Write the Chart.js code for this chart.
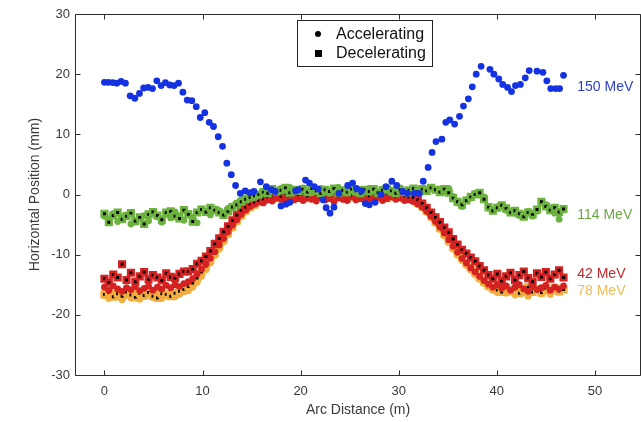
<!DOCTYPE html>
<html>
<head>
<meta charset="utf-8">
<script src="https://cdn.jsdelivr.net/npm/chart.js@4.4.0/dist/chart.umd.min.js"></script>
<style>
  html, body { margin: 0; padding: 0; background: #ffffff; overflow: hidden; }
  #wrap { width: 641px; height: 422px; overflow: hidden; position: relative; }
  canvas { display: block; }
</style>
</head>
<body>
<div id="wrap"><canvas id="c" width="650" height="422"></canvas></div>
<script>
// ---------------- DATA ----------------
// BPM arc positions (m) shared by the 114 / 42 / 78 MeV passes
const arcPos = [
  0.00, 0.45, 0.90, 1.35, 1.80, 2.25, 2.70, 3.15, 3.60, 4.05, 4.50, 4.95, 5.40, 5.85, 6.30,
  6.75, 7.20, 7.65, 8.10, 8.55, 9.00, 9.45, 9.90, 10.35, 10.80, 11.25, 11.70, 12.15, 12.60, 13.05,
  13.50, 13.95, 14.40, 14.85, 15.30, 15.75, 16.20, 16.65, 17.10, 17.55, 18.00, 18.45, 18.90, 19.35, 19.80,
  20.25, 20.70, 21.15, 21.60, 22.05, 22.50, 22.95, 23.40, 23.85, 24.30, 24.75, 25.20, 25.65, 26.10, 26.55,
  27.00, 27.45, 27.90, 28.35, 28.80, 29.25, 29.70, 30.15, 30.60, 31.05, 31.50, 31.95, 32.40, 32.85, 33.30,
  33.75, 34.20, 34.65, 35.10, 35.55, 36.00, 36.45, 36.90, 37.35, 37.80, 38.25, 38.70, 39.15, 39.60, 40.05,
  40.50, 40.95, 41.40, 41.85, 42.30, 42.75, 43.20, 43.65, 44.10, 44.55, 45.00, 45.45, 45.90, 46.35, 46.80
];

// 150 MeV (accelerating pass only)
const arc150 = [
  0.0, 0.4, 0.85, 1.26, 1.7, 2.14, 2.62, 3.1, 3.57, 4.0, 4.45, 4.9, 5.34, 5.78, 6.22, 6.66, 7.1, 7.55,
  8.0, 8.44, 8.91, 9.36, 9.77, 10.23, 10.68, 11.12, 11.6, 12.04, 12.48, 12.93, 13.37, 13.85, 14.35, 14.85,
  15.25, 15.9, 16.5, 17.0, 17.4, 18.0, 18.5, 18.9, 19.5, 19.8, 20.5, 20.9, 21.4, 21.8, 22.3, 22.6, 23.0,
  23.4, 23.9, 24.8, 25.3, 25.7, 26.2, 26.6, 27.0, 27.6, 28.2, 28.7, 29.3, 29.8, 30.4, 30.9, 31.6, 32.1,
  32.5, 33.0, 33.4, 33.8, 34.4, 34.8, 35.2, 35.7, 36.2, 36.6, 37.1, 37.5, 37.9, 38.4, 39.3, 39.7, 40.2,
  40.6, 41.1, 41.5, 41.9, 42.4, 42.9, 43.3, 44.1, 44.7, 45.1, 45.5, 46.0, 46.4, 46.8
];
const pos150 = [
  18.65, 18.65, 18.6, 18.5, 18.8, 18.5, 16.4, 16.0, 16.8, 17.7, 17.8, 17.6, 18.9, 18.1, 18.6, 18.2, 18.1, 18.5,
  17.0, 15.7, 15.6, 14.6, 12.8, 13.6, 12.0, 11.3, 9.6, 8.0, 5.2, 3.3, 1.5, 0.2, 0.6, 0.3,
  0.5, 2.1, 1.3, 0.8, 0.5, -1.9, -1.6, -1.3, 0.6, 0.8, 2.4, 1.9, 1.3, 0.9, -0.9, -2.2, -3.1,
  -2.1, 0.2, 1.5, 1.9, 1.0, 0.6, -1.5, -1.7, -1.3, 0.0, 1.3, 2.2, 1.5, 0.5, 0.2, 0.2, 0.2,
  2.2, 4.5, 7.0, 8.8, 9.2, 12.0, 12.4, 11.7, 13.0, 14.7, 15.9, 17.9, 20.0, 21.3, 20.8, 20.0, 19.2,
  18.3, 17.8, 17.1, 18.1, 18.3, 19.4, 20.6, 20.5, 20.3, 18.9, 17.6, 17.6, 17.6, 19.8
];

// 114 MeV
const acc114 = [
  -3.6, -4.0, -3.2, -4.5, -3.8, -3.4, -4.9, -4.6, -3.9, -3.5, -4.4, -3.1, -3.7, -4.6, -3.3,
  -3.9, -2.9, -3.6, -4.3, -3.2, -3.8, -4.7, -2.6, -3.0, -3.4, -2.4, -2.7, -3.1, -2.3, -1.9,
  -1.4, -0.9, -0.6, -0.3, -0.5, -0.1, 0.3, 0.5, 0.8, 0.6, 1.0, 0.7, 1.2, 0.4, 0.9,
  1.1, 0.6, 0.3, 0.8, 1.0, 0.5, 0.2, 0.7, 1.2, 0.4, 0.9, 0.6, 0.3, 0.8, 0.5,
  1.0, 0.6, 0.4, 0.9, 0.7, 0.3, 0.8, 1.1, 0.5, 0.2, 0.6, 0.9, 0.4, 0.8, 1.2,
  0.7, 0.9, 0.5, 1.0, -0.3, -1.4, -2.0, -0.9, -0.6, 0.2, -0.1, -0.4, -2.3, -2.5, -2.0,
  -2.0, -2.6, -2.8, -3.1, -3.5, -3.4, -2.8, -3.6, -2.8, -1.4, -1.7, -2.3, -3.1, -4.1, -2.5
];
const dec114 = [
  -3.2, -4.6, -3.5, -3.0, -4.1, -3.6, -3.1, -4.4, -3.8, -4.9, -3.3, -2.9, -3.5, -4.2, -3.0,
  -2.8, -3.6, -4.0, -2.6, -3.3, -4.5, -3.0, -2.5, -2.9, -2.2, -2.6, -3.0, -3.4, -2.8, -2.1,
  -1.7, -1.2, -0.8, -0.5, -0.2, 0.0, 0.4, 0.2, 0.9, 0.5, 0.7, 1.1, 0.3, 0.8, 0.6,
  0.9, 0.4, 1.0, 0.6, 0.2, 0.8, 0.5, 1.0, 0.3, 0.7, 0.4, 0.9, 0.6, 0.2, 0.8,
  0.5, 0.9, 0.3, 0.7, 1.0, 0.6, 0.2, 0.8, 0.4, 0.7, 1.0, 0.5, 0.9, 0.6, 1.1,
  0.8, 0.4, 0.9, 0.3, -0.6, -1.2, -1.7, -1.0, -0.4, 0.0, 0.3, -0.8, -2.1, -2.7, -2.2,
  -1.8, -2.3, -3.0, -2.7, -3.2, -3.7, -3.0, -3.3, -2.5, -1.2, -2.0, -2.6, -2.2, -2.9, -2.4
];

// 42 MeV
const acc42 = [
  -15.4, -15.9, -15.2, -15.7, -16.1, -15.5, -15.8, -15.3, -16.0, -15.6, -15.2, -15.9, -15.4, -15.7, -15.1,
  -15.5, -15.0, -15.3, -14.8, -14.5, -14.0, -13.2, -12.4, -11.5, -10.6, -9.5, -8.4, -7.3, -6.2, -5.1,
  -4.2, -3.3, -2.6, -2.0, -1.6, -1.2, -1.4, -0.9, -1.1, -0.6, -0.8, -1.0, -0.5, -0.9, -0.7,
  -1.0, -0.6, -0.8, -1.1, -0.5, -0.9, -0.7, -1.2, -0.6, -0.8, -1.0, -0.4, -0.9, -0.7, -1.1,
  -0.6, -0.9, -0.5, -1.0, -0.7, -0.4, -0.8, -0.6, -1.0, -0.9, -1.2, -1.6, -2.1, -2.8, -3.6,
  -4.5, -5.4, -6.4, -7.5, -8.6, -9.6, -10.6, -11.4, -12.2, -12.9, -13.6, -14.3, -14.9, -15.4, -15.0,
  -15.6, -15.2, -15.9, -15.4, -15.0, -15.7, -16.1, -15.3, -15.8, -15.5, -15.1, -15.9, -15.4, -15.7, -15.2
];
const dec42 = [
  -14.0, -14.6, -13.3, -13.8, -11.6, -14.2, -13.0, -14.5, -13.6, -12.9, -14.1, -13.4, -13.8, -14.3, -13.1,
  -13.7, -13.9, -13.2, -12.8, -12.8, -12.4, -11.5, -11.0, -10.3, -9.4, -8.2, -7.3, -6.2, -5.3, -4.3,
  -3.4, -2.6, -2.1, -1.6, -1.3, -1.0, -0.7, -0.4, -0.2, 0.1, -0.3, 0.2, -0.1, 0.3, 0.0,
  0.2, -0.2, 0.4, 0.1, -0.3, 0.2, 0.0, 0.3, -0.2, 0.1, 0.4, -0.1, 0.2, 0.0, 0.3,
  -0.2, 0.1, 0.3, -0.1, 0.2, 0.0, -0.3, 0.1, -0.2, -0.4, -0.5, -0.9, -1.5, -2.2, -3.0,
  -3.8, -4.6, -5.5, -6.3, -7.4, -8.3, -9.2, -9.8, -10.5, -11.1, -11.9, -12.6, -13.4, -14.0, -13.2,
  -14.4, -13.6, -13.0, -14.2, -13.4, -12.8, -13.9, -14.5, -13.1, -13.7, -12.9, -14.0, -13.3, -12.6, -13.8
];

// 78 MeV
const acc78 = [
  -16.8, -17.3, -16.5, -17.0, -17.5, -16.7, -17.2, -16.4, -17.4, -16.9, -16.6, -17.1, -16.5, -17.3, -16.8,
  -16.4, -17.0, -16.6, -16.2, -16.0, -15.4, -14.6, -13.6, -12.5, -11.4, -10.2, -9.1, -7.9, -6.7, -5.6,
  -4.6, -3.7, -2.9, -2.3, -1.8, -1.4, -1.0, -0.6, -0.8, -0.3, -0.5, -0.1, -0.4, 0.0, -0.3,
  -0.5, -0.2, 0.1, -0.4, -0.1, -0.3, 0.2, -0.2, -0.5, 0.0, -0.3, -0.1, 0.1, -0.4, -0.2,
  0.0, -0.3, -0.1, -0.5, -0.2, 0.1, -0.4, -0.6, -0.3, -0.8, -1.1, -1.6, -2.2, -3.0, -3.9,
  -4.8, -5.8, -6.9, -8.0, -9.1, -10.1, -11.0, -11.8, -12.6, -13.4, -14.1, -14.8, -15.4, -15.9, -16.3,
  -15.7, -16.4, -16.0, -16.7, -15.8, -16.3, -16.9, -16.1, -15.6, -16.5, -16.0, -16.6, -15.9, -16.2, -15.7
];
const dec78 = [
  -16.6, -16.3, -17.0, -16.5, -16.9, -16.2, -16.7, -17.1, -16.4, -16.8, -16.3, -16.9, -17.2, -16.5, -16.6,
  -16.9, -16.4, -16.1, -15.8, -15.3, -14.7, -13.9, -12.9, -11.9, -10.8, -9.7, -8.6, -7.5, -6.4, -5.3,
  -4.3, -3.4, -2.7, -2.1, -1.7, -1.2, -0.9, -0.7, -0.4, -0.6, -0.2, -0.5, -0.3, -0.1, -0.4,
  -0.2, -0.6, -0.3, 0.0, -0.4, -0.1, -0.5, -0.2, 0.1, -0.3, -0.6, -0.2, -0.4, 0.0, -0.3,
  -0.5, -0.1, -0.4, -0.2, -0.6, -0.3, 0.0, -0.4, -0.7, -0.5, -0.9, -1.4, -2.0, -2.7, -3.6,
  -4.5, -5.5, -6.5, -7.6, -8.7, -9.7, -10.6, -11.4, -12.2, -13.0, -13.8, -14.5, -15.1, -15.6, -15.9,
  -16.2, -15.5, -16.1, -15.7, -16.4, -15.9, -15.4, -16.2, -15.8, -16.3, -15.6, -16.0, -15.5, -16.1, -15.8
];

const xTickValues = [0, 10, 20, 30, 40, 50];
const yTickValues = [-30, -20, -10, 0, 10, 20, 30];
const energyLabels = ['150 MeV', '114 MeV', '42 MeV', '78 MeV'];
const legendLabels = ['Accelerating', 'Decelerating'];
const xTitle = 'Arc Distance (m)';
const yTitle = 'Horizontal Position (mm)';

// ---------------- STYLE ----------------
const C_BLUE = '#1532e2';
const C_GREEN = '#6cb23f';
const C_RED = '#d42222';
const C_ORANGE = '#f2ae3e';
const LABEL_COLORS = ['#2a3fd0', '#6ca645', '#c4262a', '#f1bb5e'];
const LABEL_ANCHORS = [[48.2, 17.8], [48.2, -3.4], [48.2, -13.3], [48.2, -16.1]];
const FONT = 'Liberation Sans, Arial, Helvetica, sans-serif';
const AXIS = '#2e2e2e';
const TEXT = '#3a3a3a';

function pts(xs, ys) { return xs.map((x, i) => ({ x: x, y: ys[i] })); }

function dotSet(label, xs, ys, color, order) {
  return { label, data: pts(xs, ys), order, pointStyle: 'circle', pointRadius: 3.4,
    pointBackgroundColor: color, pointBorderColor: color, pointBorderWidth: 0, showLine: false };
}
function squareSet(label, xs, ys, color, order) {
  return { label, data: pts(xs, ys), order, pointStyle: 'rect', pointRadius: 3.9,
    pointBackgroundColor: '#000000', pointBorderColor: color, pointBorderWidth: 2.6, showLine: false };
}

const framePlugin = {
  id: 'frame',
  afterDatasetsDraw(chart) {
    const { ctx, chartArea: a, scales } = chart;
    ctx.save();
    ctx.strokeStyle = AXIS;
    ctx.lineWidth = 1;
    const L = Math.round(a.left) + 0.5, R = Math.round(a.right) - 0.5;
    const T = Math.round(a.top) + 0.5, B = Math.round(a.bottom) + 0.5;
    ctx.beginPath();
    ctx.moveTo(L, T); ctx.lineTo(R, T); ctx.lineTo(R, B); ctx.lineTo(L, B); ctx.closePath();
    const tl = 5;
    xTickValues.forEach(v => {
      const px = Math.round(scales.x.getPixelForValue(v)) + 0.5;
      ctx.moveTo(px, B); ctx.lineTo(px, B - tl);
      ctx.moveTo(px, T); ctx.lineTo(px, T + tl);
    });
    yTickValues.forEach(v => {
      const py = Math.round(scales.y.getPixelForValue(v)) + 0.5;
      ctx.moveTo(L, py); ctx.lineTo(L + tl, py);
      ctx.moveTo(R, py); ctx.lineTo(R - tl, py);
    });
    ctx.stroke();

    // energy labels
    ctx.font = '14px ' + FONT;
    ctx.textBaseline = 'middle';
    ctx.textAlign = 'left';
    energyLabels.forEach((t, i) => {
      ctx.fillStyle = LABEL_COLORS[i];
      ctx.fillText(t, scales.x.getPixelForValue(LABEL_ANCHORS[i][0]), scales.y.getPixelForValue(LABEL_ANCHORS[i][1]));
    });

    // legend box
    const bx = 297.5, by = 20.5, bw = 135, bh = 46;
    ctx.fillStyle = '#ffffff';
    ctx.fillRect(bx, by, bw, bh);
    ctx.strokeStyle = '#222222';
    ctx.lineWidth = 1;
    ctx.strokeRect(bx, by, bw, bh);
    ctx.fillStyle = '#000000';
    ctx.beginPath();
    ctx.arc(318, 34, 3, 0, Math.PI * 2);
    ctx.fill();
    ctx.fillRect(315, 50, 7, 7);
    ctx.fillStyle = '#111111';
    ctx.font = '16px ' + FONT;
    ctx.fillText(legendLabels[0], 336, 34.5);
    ctx.fillText(legendLabels[1], 336, 54);
    ctx.restore();
  }
};

new Chart(document.getElementById('c'), {
  type: 'scatter',
  data: {
    datasets: [
      dotSet('150 MeV accelerating', arc150, pos150, C_BLUE, 0),
      squareSet('114 MeV decelerating', arcPos, dec114, C_GREEN, 1),
      dotSet('114 MeV accelerating', arcPos, acc114, C_GREEN, 2),
      squareSet('42 MeV decelerating', arcPos, dec42, C_RED, 3),
      dotSet('42 MeV accelerating', arcPos, acc42, C_RED, 4),
      squareSet('78 MeV decelerating', arcPos, dec78, C_ORANGE, 5),
      dotSet('78 MeV accelerating', arcPos, acc78, C_ORANGE, 6)
    ]
  },
  options: {
    responsive: false,
    animation: false,
    devicePixelRatio: 1,
    layout: { padding: { top: 14, right: 9, left: 0, bottom: 0 } },
    plugins: { legend: { display: false }, tooltip: { enabled: false } },
    scales: {
      x: {
        type: 'linear', min: -3, max: 54.7,
        afterBuildTicks: s => { s.ticks = xTickValues.map(v => ({ value: v })); },
        afterFit: s => { s.height = 47; },
        grid: { display: false, drawTicks: false },
        border: { display: false },
        ticks: { color: TEXT, font: { family: FONT, size: 13 }, padding: 9, maxRotation: 0 },
        title: { display: true, text: xTitle, color: TEXT, font: { family: FONT, size: 14 }, padding: { top: 0, bottom: 3 } }
      },
      y: {
        type: 'linear', min: -30, max: 30,
        afterBuildTicks: s => { s.ticks = yTickValues.map(v => ({ value: v })); },
        afterFit: s => { s.width = 75; },
        grid: { display: false, drawTicks: false },
        border: { display: false },
        ticks: { color: TEXT, font: { family: FONT, size: 13 }, padding: 5 },
        title: { display: true, text: yTitle, color: TEXT, font: { family: FONT, size: 14 }, padding: { top: 27, bottom: 0 } }
      }
    }
  },
  plugins: [framePlugin]
});
</script>
</body>
</html>
